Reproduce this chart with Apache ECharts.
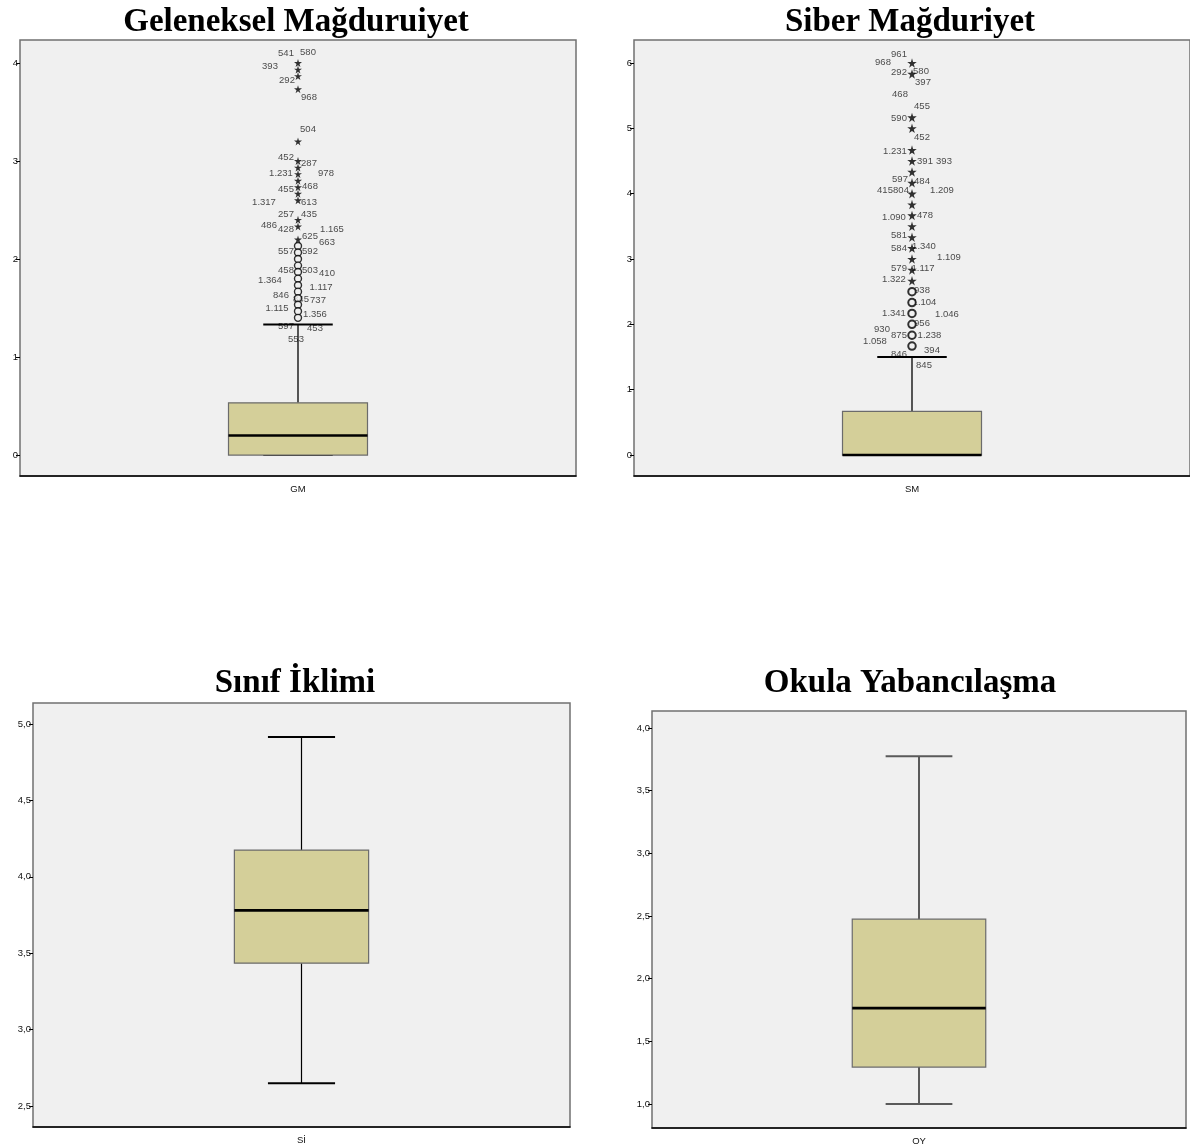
<!DOCTYPE html>
<html><head><meta charset="utf-8">
<script src="https://cdn.jsdelivr.net/npm/echarts@6/dist/echarts.min.js"></script>
<style>html,body{margin:0;padding:0;background:#fff}#c{width:1190px;height:1148px}</style>
</head><body><div id="c"></div>
<script>
// ---------- DATA ----------
const titles = ['Geleneksel Mağduruiyet', 'Siber Mağduriyet', 'Sınıf İklimi', 'Okula Yabancılaşma'];
const categories = ['GM', 'SM', 'Sİ', 'OY'];
// [min, Q1, median, Q3, max]
const gmBox = [0, 0, 0.2, 0.533, 1.333];
const smBox = [0, 0, 0, 0.667, 1.5];
const siBox = [2.65, 3.435, 3.78, 4.175, 4.915];
const oyBox = [1.0, 1.295, 1.765, 2.475, 3.775];
// extreme values (stars) and outliers (circles)
const gmExtremes = [4.0, 3.933, 3.867, 3.733, 3.2, 3.0, 2.933, 2.867, 2.8, 2.733, 2.667, 2.6, 2.4, 2.333, 2.2];
const gmOutliers = [2.133, 2.067, 2.0, 1.933, 1.867, 1.8, 1.733, 1.667, 1.6, 1.533, 1.467, 1.4];
const smExtremes = [6.0, 5.833, 5.167, 5.0, 4.667, 4.5, 4.333, 4.167, 4.0, 3.833, 3.667, 3.5, 3.333, 3.167, 3.0, 2.833, 2.667];
const smOutliers = [2.5, 2.333, 2.167, 2.0, 1.833, 1.667];
// case labels and the value each one annotates
const gmCaseIds = ['541','580','393','292','968','504','452','287','1.231','978','468','455','1.317','613','257','435','486','428','1.165','625','663','557','592','458','503','410','1.364','1.117','846','845','737','1.115','1.356','597','453','553'];
const gmCaseAt  = [4.0,4.0,3.933,3.867,3.733,3.2,3.0,2.933,2.867,2.867,2.733,2.667,2.6,2.6,2.4,2.4,2.333,2.333,2.333,2.2,2.2,2.067,2.067,1.867,1.867,1.8,1.733,1.667,1.6,1.533,1.533,1.467,1.4,1.4,1.4,1.4];
const smCaseIds = ['961','968','292','580','397','468','455','590','452','1.231','391','393','597','484','415','804','1.209','1.090','478','581','584','1.340','1.109','579','1.117','1.322','938','1.104','1.341','1.046','956','930','875','1.238','1.058','394','846','845'];
const smCaseAt  = [6.0,6.0,5.833,5.833,5.833,5.833,5.167,5.167,5.0,4.667,4.5,4.5,4.167,4.167,4.0,4.0,4.0,3.667,3.667,3.333,3.167,3.167,3.0,2.833,2.833,2.667,2.5,2.333,2.167,2.167,2.0,1.833,1.833,1.833,1.667,1.667,1.667,1.667];
// axis ticks
const gmTicks = [0, 1, 2, 3, 4];
const smTicks = [0, 1, 2, 3, 4, 5, 6];
const siTicks = [2.5, 3.0, 3.5, 4.0, 4.5, 5.0];
const oyTicks = [1.0, 1.5, 2.0, 2.5, 3.0, 3.5, 4.0];

// ---------- LAYOUT (pixel offsets of case labels) ----------
const gmLabelOffsets = [[-12,-10],[10,-11],[-28,-3],[-11,4],[11,8],[10,-12],[-12,-4],[11,-4],[-17,-1],[28,-1],[12,-1],[-12,-4],[-34,2],[11,2.5],[-12,-5],[11,-5],[-29,-1.5],[-12,2.5],[34,2.5],[12,-3.5],[29,2.5],[-12,-1.5],[12,-1.5],[-12,-2],[12,-1.5],[29,-5],[-28,-4.5],[23,-4.5],[-17,-3],[3,-5],[20,-4],[-21,-3],[17,-3],[-12,9],[17,10.5],[-2,22]];
const smLabelOffsets = [[-13,-9],[-29,-1],[-13,-1.5],[9,-3],[11,8.5],[-12,20],[10,-11],[-13,0.5],[10,9],[-17,1],[13,0],[32,0],[-12,-3],[10,-1],[-27,-3],[-11,-3],[30,-3],[-18,2],[13,-0.5],[-13,-1.5],[-13,0],[12,-1.5],[37,-1.5],[-13,-1.5],[11,-1.5],[-18,-1.5],[10,-1.5],[12.5,-0.5],[-18,-0.5],[35,0.5],[10,-1],[-30,-6],[-13,0],[17.5,0.5],[-37,-4.5],[20,4],[-13,8],[12,19.5]];

const grids = [
  {left: 20, top: 40, width: 556, height: 436},
  {left: 634, top: 40, width: 558, height: 436},
  {left: 33, top: 703, width: 537, height: 424},
  {left: 652, top: 711, width: 534, height: 417}
];
const yRanges = [[-0.214, 4.235], [-0.321, 6.352], [2.363, 5.137], [0.8085, 4.136]];
const tickSets = [gmTicks, smTicks, siTicks, oyTicks];
const boxes = [gmBox, smBox, siBox, oyBox];
const titlePos = [[291, 1], [905, 1], [290, 662], [905, 662]];
const whiskerStyles = [
  {color: '#000', w: 1.3, cap: 2},
  {color: '#000', w: 1.3, cap: 2},
  {color: '#000', w: 1.2, cap: 2},
  {color: '#5a5a5a', w: 2, cap: 2}
];

const STAR = 'path://M50,0 L61,35 L98,35 L68,57 L79,91 L50,70 L21,91 L32,57 L2,35 L39,35 Z';
const FONT = '"Liberation Sans", Arial, sans-serif';

function boxRenderer(ws) {
  return function (params, api) {
    const xi = api.value(0);
    const pMin = api.coord([xi, api.value(1)]);
    const pQ1 = api.coord([xi, api.value(2)]);
    const pMed = api.coord([xi, api.value(3)]);
    const pQ3 = api.coord([xi, api.value(4)]);
    const pMax = api.coord([xi, api.value(5)]);
    const band = api.size([1, 0])[0];
    const bw = band * 0.25, cw = band * 0.125;
    const cx = pMed[0];
    const ls = {stroke: ws.color, lineWidth: ws.w};
    const cs = {stroke: ws.color, lineWidth: ws.cap};
    return {type: 'group', children: [
      {type: 'line', shape: {x1: cx, y1: pQ3[1], x2: cx, y2: pMax[1]}, style: ls},
      {type: 'line', shape: {x1: cx, y1: pQ1[1], x2: cx, y2: pMin[1]}, style: ls},
      {type: 'line', shape: {x1: cx - cw / 2, y1: pMax[1], x2: cx + cw / 2, y2: pMax[1]}, style: cs},
      {type: 'line', shape: {x1: cx - cw / 2, y1: pMin[1], x2: cx + cw / 2, y2: pMin[1]}, style: cs},
      {type: 'rect', shape: {x: cx - bw / 2, y: pQ3[1], width: bw, height: pQ1[1] - pQ3[1]},
        style: {fill: '#d4cf99', stroke: '#6b6b6b', lineWidth: 1.2}},
      {type: 'line', shape: {x1: cx - bw / 2, y1: pMed[1], x2: cx + bw / 2, y2: pMed[1]},
        style: {stroke: '#000', lineWidth: 2.6}}
    ]};
  };
}

function fmt(i) {
  return i >= 2 ? (v => v.toFixed(1).replace('.', ',')) : (v => String(v));
}

const option = {
  animation: false,
  backgroundColor: '#fff',
  title: titles.map((t, i) => ({
    text: t, left: titlePos[i][0], top: titlePos[i][1], textAlign: 'center',
    textStyle: {fontFamily: '"Liberation Serif", "Times New Roman", serif', fontWeight: 'bold', fontSize: 33, color: '#000'}
  })),
  grid: grids.map(g => Object.assign({show: true, backgroundColor: '#f0f0f0', borderColor: '#707070', borderWidth: 1.5}, g)),
  xAxis: categories.map((c, i) => ({
    type: 'category', gridIndex: i, data: [c],
    axisLine: {onZero: false, lineStyle: {color: '#000', width: 1.5}},
    axisTick: {alignWithLabel: true, length: 5, lineStyle: {color: '#000'}},
    axisLabel: {fontSize: 9.5, color: '#111', margin: 8, fontFamily: FONT}
  })),
  yAxis: yRanges.map((r, i) => ({
    type: 'value', gridIndex: i, min: r[0], max: r[1],
    axisLine: {show: false, onZero: false}, splitLine: {show: false},
    axisTick: {show: true, length: 4, lineStyle: {color: '#000'}, customValues: tickSets[i]},
    axisLabel: {customValues: tickSets[i], fontSize: 9.5, color: '#111', margin: 2, fontFamily: FONT, formatter: fmt(i)}
  })),
  series: []
};

// label series (drawn beneath the marks, like SPSS)
function labelSeries(gi, ids, at, offs) {
  return {
    type: 'scatter', xAxisIndex: gi, yAxisIndex: gi, z: 2, silent: true,
    symbolSize: 1, itemStyle: {color: 'rgba(0,0,0,0)'},
    label: {show: true, position: 'inside', formatter: '{b}', fontSize: 9.5, color: '#1a1a1a', fontFamily: FONT},
    data: ids.map((id, k) => ({name: id, value: [0, at[k]], label: {offset: offs[k]}}))
  };
}
option.series.push(labelSeries(0, gmCaseIds, gmCaseAt, gmLabelOffsets));
option.series.push(labelSeries(1, smCaseIds, smCaseAt, smLabelOffsets));

boxes.forEach((b, i) => {
  option.series.push({
    type: 'custom', xAxisIndex: i, yAxisIndex: i, z: 3, silent: true,
    renderItem: boxRenderer(whiskerStyles[i]),
    encode: {x: 0, y: [1, 2, 3, 4, 5]},
    data: [[0].concat(b)]
  });
});

function pointSeries(gi, vals, kind, size, bw) {
  return {
    type: 'scatter', xAxisIndex: gi, yAxisIndex: gi, z: 4, silent: true,
    symbol: kind === 'star' ? STAR : 'circle', symbolSize: size,
    itemStyle: kind === 'star' ? {color: '#000'} : {color: '#f0f0f0', borderColor: '#000', borderWidth: bw},
    data: vals.map(v => [0, v])
  };
}
option.series.push(pointSeries(0, gmOutliers, 'circle', 7, 1.4));
option.series.push(pointSeries(0, gmExtremes, 'star', 8));
option.series.push(pointSeries(1, smOutliers, 'circle', 7.5, 2));
option.series.push(pointSeries(1, smExtremes, 'star', 9.5));

const chart = echarts.init(document.getElementById('c'), null, {renderer: 'canvas'});
chart.setOption(option);
</script>
</body></html>
